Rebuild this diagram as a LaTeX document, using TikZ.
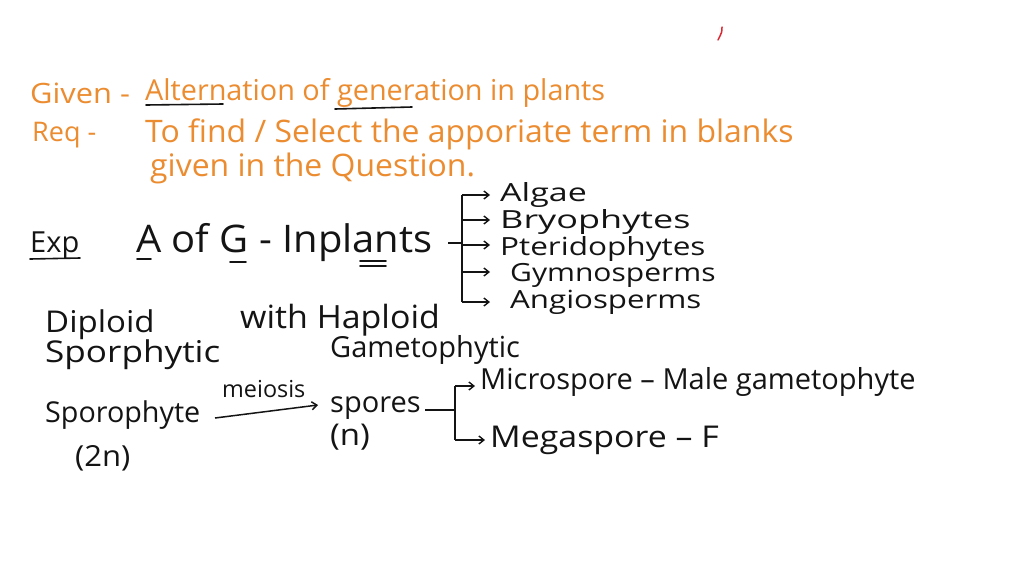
\documentclass[tikz,border=0pt]{standalone}
\usepackage{fontspec}
\usepackage{graphicx}
\setmainfont{Open Sans}
\usetikzlibrary{arrows.meta}
\definecolor{pen}{RGB}{236,140,48}
\definecolor{ink}{RGB}{20,20,20}
\definecolor{redpen}{RGB}{220,40,50}
\newcommand{\hs}[2]{\scalebox{#1}[1]{#2}}
\begin{document}
\begin{tikzpicture}[x=1pt,y=-1pt,
  fs/.style={font=\fontsize{#1}{#1}\selectfont},
  otext/.style={anchor=base west,inner sep=0pt,text=pen},
  btext/.style={anchor=base west,inner sep=0pt,text=ink},
  uline/.style={draw=ink,line width=1.6pt,line cap=round},
  brk/.style={draw=ink,line width=1.4pt},
  arr/.style={draw=ink,line width=1.4pt,-{Straight Barb[length=5pt,width=8pt]}}]
\useasboundingbox (0,0) rectangle (1024,576);
\fill[white] (0,0) rectangle (1024,576);
% red mark
\draw[redpen,line width=1.5pt,line cap=round] (722,27) .. controls (722,32) .. (718,40);
% orange header
\node[otext,fs=28] (given) at (30,103) {\hs{1.1}{Given -}};
\node[otext,fs=28.8] (alt) at (145,100) {Alternation of generation in plants};
\node[otext,fs=27] (req) at (32,141) {Req -};
\node[otext,fs=31] (find) at (145,142) {\hs{1.03}{To find / Select the apporiate term in blanks}};
\node[otext,fs=31] (ques) at (150,176) {\hs{1.03}{given in the Question.}};
\draw[uline] (146,105) -- (223,104);
\draw[uline] (335,109) -- (412,107);
% Exp line
\node[btext,fs=29] (exp) at (30,252) {Exp};
\draw[uline] (30,259) -- (80,258);
\node[btext,fs=38] (aog) at (136,252) {\hs{1.05}{A of G - Inplants}};
\draw[uline] (137,259) -- (151,259);
\draw[uline] (230,262) -- (246,262);
\draw[uline] (360,261) -- (386,261);
\draw[uline] (360,266) -- (386,266);
% classification bracket
\coordinate (b1) at (448,243);
\coordinate (bt) at (462,195);
\coordinate (bb) at (462,302);
\draw[brk] (b1) -- (462,243);
\draw[brk] (bt) -- (bb);
\node[btext,fs=25] (algae) at (500,201) {\hs{1.36}{Algae}};
\node[btext,fs=25] (bryo) at (500,228) {\hs{1.44}{Bryophytes}};
\node[btext,fs=25] (pter) at (500,255) {\hs{1.26}{Pteridophytes}};
\node[btext,fs=25] (gymno) at (510,281) {\hs{1.2}{Gymnosperms}};
\node[btext,fs=25] (angio) at (510,308) {\hs{1.25}{Angiosperms}};
\draw[arr] (bt) -- (490,195);
\draw[arr] (462,220) -- (490,220);
\draw[arr] (462,245) -- (490,245);
\draw[arr] (462,272) -- (490,272);
\draw[arr] (bb) -- (490,302);
% diploid / haploid
\node[btext,fs=30] (dip) at (45,332) {\hs{1.1}{Diploid}};
\node[btext,fs=30] (sporph) at (45,362) {\hs{1.17}{Sporphytic}};
\node[btext,fs=32] (hap) at (240,328) {\hs{1.06}{with Haploid}};
\node[btext,fs=29] (game) at (330,357) {Gametophytic};
% sporophyte line
\node[btext,fs=28.7] (sporo) at (45,422) {Sporophyte};
\node[btext,fs=29] (twon) at (75,466) {\hs{1.07}{(2n)}};
\node[btext,fs=23.4] (mei) at (222,397) {meiosis};
\node[btext,fs=29] (spores) at (330,412) {spores};
\node[btext,fs=30] (n) at (330,445) {\hs{1.1}{(n)}};
\coordinate (m1) at (215,418);
\coordinate (m2) at (318,405);
\draw[arr,line width=1.5pt] (m1) -- (m2);
% spore bracket
\coordinate (s1) at (425,410);
\coordinate (st) at (455,386);
\coordinate (sb) at (455,440);
\draw[brk] (s1) -- (455,410);
\draw[brk] (st) -- (sb);
\node[btext,fs=29] (micro) at (480,389) {Microspore – Male gametophyte};
\node[btext,fs=30] (mega) at (490,447) {\hs{1.13}{Megaspore – F}};
\draw[arr] (st) -- (475,386);
\draw[arr] (sb) -- (485,440);
\end{tikzpicture}
\end{document}
